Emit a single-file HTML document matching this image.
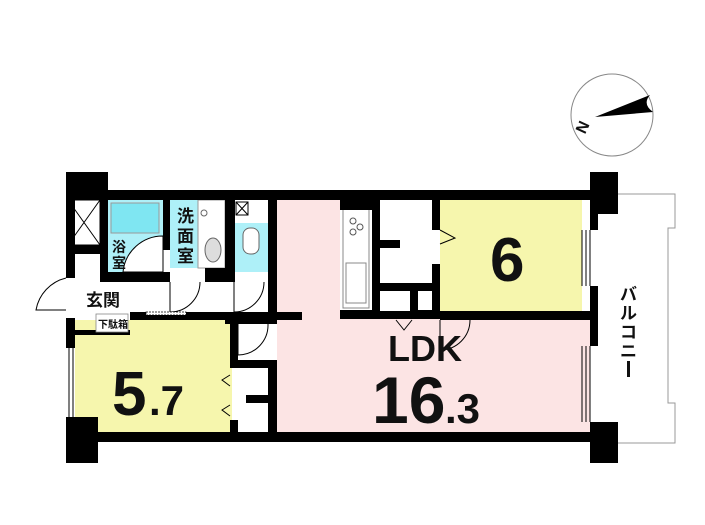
<!DOCTYPE html>
<html><head><meta charset="utf-8"><style>
html,body{margin:0;padding:0;background:#fff;width:705px;height:525px;overflow:hidden}
svg{display:block}
text{font-family:"Liberation Sans","Noto Sans CJK JP",sans-serif;font-weight:bold;fill:#111}
</style></head><body>
<svg width="705" height="525" viewBox="0 0 705 525" xmlns="http://www.w3.org/2000/svg">
<!-- compass -->
<circle cx="612" cy="115" r="41" fill="#fff" stroke="#888" stroke-width="1"/>
<path d="M595,117 L650,95 Q642,104 653,112 Z" fill="#000"/>
<text x="575" y="131" font-size="16" font-family="Liberation Serif" font-weight="normal" transform="rotate(-65 583 125)">N</text>

<!-- balcony -->
<path d="M618,194 L675,194 L675,228 L668,228 L668,403 L675,403 L675,443 L618,443" fill="#fff" stroke="#999" stroke-width="1"/>
<text font-size="17" x="620" y="300"><tspan x="620" y="300">バ</tspan><tspan x="620" y="319">ル</tspan><tspan x="620" y="338">コ</tspan><tspan x="620" y="357">ニ</tspan></text>
<rect x="627" y="361" width="3" height="16" fill="#111"/>

<!-- floors -->
<rect x="277" y="200" width="63" height="120" fill="#fce4e4"/>
<rect x="277" y="318" width="313" height="116" fill="#fce4e4"/>
<rect x="440" y="200" width="142" height="112" fill="#f6f6ad"/>
<rect x="75" y="320" width="157" height="116" fill="#f6f6ad"/>
<rect x="108" y="200" width="55" height="72" fill="#aef0f8"/>
<rect x="111" y="203" width="48" height="30" fill="#7fe6f2" stroke="#999" stroke-width="1"/>
<path d="M163,236 A40,40 0 0 0 123,272 L163,272 Z" fill="#fff" stroke="#000" stroke-width="1"/>
<rect x="170" y="200" width="55" height="68" fill="#aef0f8"/>
<rect x="198" y="200" width="27" height="68" fill="#fff" stroke="#999" stroke-width="1"/>
<ellipse cx="213" cy="250" rx="8" ry="12" fill="#ddd" stroke="#666"/>
<circle cx="204" cy="213" r="3" fill="none" stroke="#666"/>
<rect x="235" y="223" width="33" height="49" fill="#aef0f8"/>
<rect x="243" y="228" width="16" height="26" rx="7" fill="#fff" stroke="#666"/>
<rect x="236" y="202" width="12" height="13" fill="#fff" stroke="#000"/>
<path d="M236,202 L248,215 M248,202 L236,215" stroke="#000"/>
<rect x="68" y="200" width="32" height="45" fill="#fff" stroke="#000"/>
<path d="M68,200 L100,245 M100,200 L68,245" stroke="#000"/>
<!-- kitchen -->
<rect x="343" y="208" width="26" height="100" fill="#fff" stroke="#888"/>
<circle cx="353" cy="221" r="3" fill="none" stroke="#555"/><circle cx="353" cy="232" r="3" fill="none" stroke="#555"/><circle cx="360" cy="227" r="3" fill="none" stroke="#555"/>
<rect x="346" y="263" width="20" height="40" fill="#fff" stroke="#888"/>

<!-- walls -->
<g fill="#000">
<rect x="66" y="172" width="42" height="28"/>
<rect x="100" y="190" width="498" height="10"/>
<rect x="66" y="200" width="9" height="78"/>
<rect x="66" y="318" width="9" height="30"/>
<rect x="66" y="245" width="42" height="9"/>
<rect x="100" y="200" width="8" height="82"/>
<rect x="100" y="272" width="70" height="10"/>
<rect x="163" y="200" width="7" height="50"/>
<rect x="225" y="200" width="10" height="82"/>
<rect x="205" y="268" width="30" height="14"/>
<rect x="268" y="200" width="9" height="120"/>
<rect x="130" y="312" width="100" height="8"/>
<rect x="75" y="330" width="55" height="5"/>
<rect x="225" y="312" width="52" height="12"/>
<rect x="230" y="312" width="8" height="48"/>
<rect x="277" y="312" width="25" height="8"/>
<rect x="340" y="310" width="100" height="9"/>
<rect x="340" y="200" width="38" height="10"/>
<rect x="372" y="200" width="8" height="118"/>
<rect x="432" y="200" width="8" height="30"/>
<rect x="432" y="264" width="8" height="54"/>
<rect x="410" y="283" width="8" height="35"/>
<rect x="440" y="311" width="158" height="9"/>
<rect x="590" y="200" width="8" height="30"/>
<rect x="590" y="286" width="8" height="60"/>
<rect x="590" y="172" width="28" height="42"/>
<rect x="590" y="422" width="28" height="41"/>
<rect x="66" y="417" width="32" height="46"/>
<rect x="98" y="432" width="492" height="10"/>
<rect x="230" y="360" width="47" height="8"/>
<rect x="268" y="360" width="9" height="75"/>
<rect x="230" y="420" width="8" height="15"/>
</g>
<rect x="238" y="368" width="30" height="64" fill="#fff"/>
<rect x="246" y="395" width="22" height="8" fill="#000"/>
<rect x="380" y="210" width="52" height="73" fill="#fff"/>
<rect x="380" y="240" width="20" height="8" fill="#000"/>
<rect x="380" y="283" width="52" height="8" fill="#000"/>
<rect x="380" y="291" width="30" height="20" fill="#fff"/>
<!-- windows -->
<g fill="none" stroke="#000" stroke-width="1">
<path d="M582,230 V286 M586,230 V286 M590,230 V286"/>
<path d="M582,346 V422 M586,346 V422 M590,346 V422"/>
<path d="M69,348 V417 M73,348 V417"/>
<!-- doors -->
<path d="M66,278 A40,40 0 0 0 36,310 L66,310"/>
<path d="M170,282 V312 A30,30 0 0 0 200,282"/>
<path d="M234,282 V312 A30,30 0 0 0 264,282"/>
<path d="M238,324 V355 A30,30 0 0 0 268,324"/>
<path d="M440,320 V350 A30,30 0 0 0 470,320"/>
<path d="M396,320 L404,330 L412,320"/>
<path d="M440,230 L455,238 L440,244"/>
<path d="M230,375 L222,380 L230,386 M230,405 L222,410 L230,416"/>
</g>
<rect x="146" y="312" width="40" height="3" fill="#fff" stroke="#000" stroke-width="0.7" stroke-dasharray="2 1"/>

<!-- labels -->
<text x="112" y="252" font-size="14">浴</text>
<text x="112" y="268" font-size="14">室</text>
<text x="177" y="222" font-size="17">洗</text>
<text x="177" y="242" font-size="17">面</text>
<text x="177" y="262" font-size="17">室</text>
<text x="86" y="306" font-size="17">玄関</text>
<rect x="96" y="314" width="32" height="18" fill="#fff" stroke="#888" stroke-width="0.8"/>
<text x="98" y="328" font-size="10" font-weight="normal">下駄箱</text>
<text x="112" y="415" font-size="62" font-weight="normal">5</text>
<text x="149" y="415" font-size="42" font-weight="normal">.7</text>
<text x="490" y="281" font-size="62" font-weight="normal">6</text>
<text x="388" y="361" font-size="36" font-weight="normal">LDK</text>
<text x="372" y="423" font-size="66" font-weight="normal">16</text>
<text x="445" y="423" font-size="42" font-weight="normal">.3</text>
</svg>
</body></html>
